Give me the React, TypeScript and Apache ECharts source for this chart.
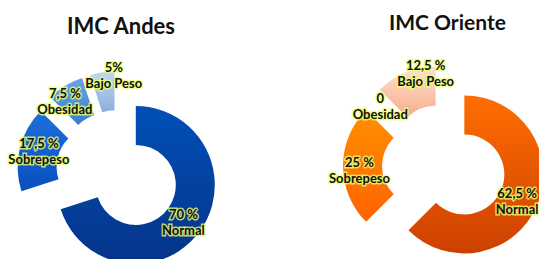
import React, { useEffect, useRef } from "react";
import * as echarts from "echarts";

const categories = ["Normal", "Sobrepeso", "Obesidad", "Bajo Peso"];
const andesValues = [70, 17.5, 7.5, 5];
const andesValueLabels = ["70 %", "17,5 %", "7,5 %", "5%"];
const orienteValues = [62.5, 25, 0, 12.5];
const orienteValueLabels = ["62,5 %", "25 %", "0", "12,5 %"];
const titles = ["IMC Andes", "IMC Oriente"];

const grad = (top: string, bottom: string) =>
  new echarts.graphic.LinearGradient(0, 0, 0, 1, [
    { offset: 0, color: top },
    { offset: 1, color: bottom },
  ]);

const andesColors = [
  grad("#0050b6", "#06338a"),
  grad("#1c6fdc", "#0a4fbe"),
  grad("#6aa4e6", "#3a7cd0"),
  grad("#c4d6f2", "#8caede"),
];
const orienteColors = [
  grad("#ff6e00", "#cc4000"),
  grad("#ff9000", "#ff6200"),
  grad("#ffc89e", "#ffc89e"),
  grad("#fde2d0", "#f6ad8c"),
];

const andesLabelShift = [[-3, 0], [3, -1], [-9, 1], [9, -14]];
const orienteLabelShift = [[-5, 3], [0, 4], [-4, 0], [14, -15]];

const labelStyle = {
  show: true,
  position: "inside",
  color: "#111",
  fontFamily: "Lato",
  fontWeight: "bold",
  fontSize: 13,
  lineHeight: 16,
  textBorderColor: "rgba(235,255,110,0.8)",
  textBorderWidth: 3,
};

function buildSeries(
  values: number[],
  valueLabels: string[],
  colors: any[],
  shifts: number[][],
  center: number[]
) {
  return {
    type: "pie",
    center,
    radius: [40, 79],
    startAngle: 90,
    clockwise: true,
    selectedMode: "multiple",
    selectedOffset: 22,
    avoidLabelOverlap: false,
    minShowLabelAngle: 0,
    stillShowZeroSum: true,
    labelLayout: (p: any) => ({
      dx: shifts[p.dataIndex][0],
      dy: shifts[p.dataIndex][1],
      hideOverlap: false,
    }),
    emphasis: { disabled: true },
    labelLine: { show: false },
    label: labelStyle,
    data: values.map((v, i) => ({
      name: categories[i],
      value: v,
      selected: true,
      itemStyle: { color: colors[i] },
      label: {
        formatter: valueLabels[i] + "\n" + categories[i],
      },
    })),
  };
}

export default function App() {
  const ref = useRef<HTMLDivElement>(null);
  useEffect(() => {
    if (!ref.current) return;
    const chart = echarts.init(ref.current, undefined, { renderer: "svg" });
    chart.setOption({
      animation: false,
      title: [
        {
          text: titles[0],
          left: 62,
          top: 9,
          textStyle: { fontFamily: "Lato", fontWeight: "bold", fontSize: 22, color: "#111" },
        },
        {
          text: titles[1],
          left: 384,
          top: 6,
          textStyle: { fontFamily: "Lato", fontWeight: "bold", fontSize: 21, color: "#111" },
        },
      ],
      series: [
        buildSeries(andesValues, andesValueLabels, andesColors, andesLabelShift, [118, 172]),
        buildSeries(orienteValues, orienteValueLabels, orienteColors, orienteLabelShift, [444, 166]),
      ],
    });
    return () => chart.dispose();
  }, []);
  return (
    <div
      ref={ref}
      style={{ position: "fixed", left: 0, top: 0, width: 539, height: 259, background: "#fff" }}
    />
  );
}
